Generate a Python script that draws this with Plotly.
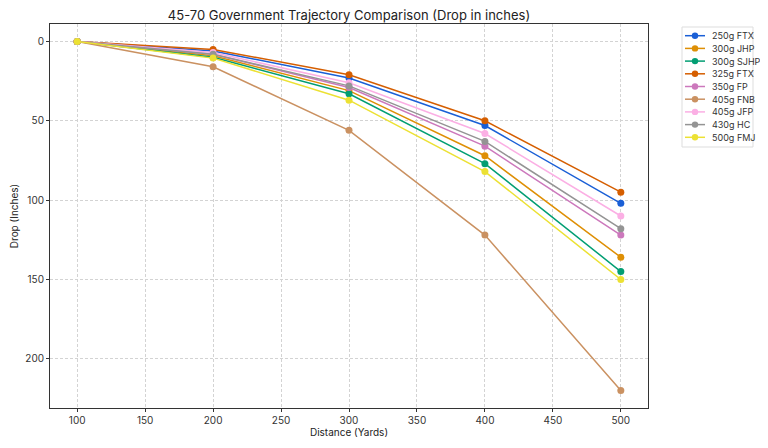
import plotly.graph_objects as go

distance = [100, 200, 300, 400, 500]

loads = ["250g FTX", "300g JHP", "300g SJHP", "325g FTX", "350g FP",
         "405g FNB", "405g JFP", "430g HC", "500g FMJ"]

drop_250_ftx = [0, 6, 23, 53, 102]
drop_300_jhp = [0, 9, 31, 72, 136]
drop_300_sjhp = [0, 10, 33, 77, 145]
drop_325_ftx = [0, 5, 21, 50, 95]
drop_350_fp = [0, 8, 29, 66, 122]
drop_405_fnb = [0, 16, 56, 122, 220]
drop_405_jfp = [0, 7, 26, 58, 110]
drop_430_hc = [0, 8, 28, 63, 118]
drop_500_fmj = [0, 10.5, 37, 82, 150]

drops = [drop_250_ftx, drop_300_jhp, drop_300_sjhp, drop_325_ftx, drop_350_fp,
         drop_405_fnb, drop_405_jfp, drop_430_hc, drop_500_fmj]

colors = ["#1a5fd6", "#de8f05", "#029e73", "#d55e00", "#cc78bc",
          "#ca9161", "#fbafe4", "#949494", "#ece133"]

# page body has an 8px margin, so the figure is a bit smaller than the window
W, H = 760, 440
L, R, T, B = 42, 120, 16, 40
pw, ph = W - L - R, H - T - B


def fx(px):
    return (px - L) / pw


def fy(py):
    return (H - B - py) / ph


fig = go.Figure()
for name, ys, c in zip(loads, drops, colors):
    fig.add_trace(go.Scatter(
        x=distance, y=ys, name=name, mode="lines+markers",
        line=dict(color=c, width=1.5),
        marker=dict(color=c, size=7),
    ))

# compact legend drawn by hand (plotly's own legend rows are too tall)
shapes = [dict(type="rect", xref="paper", yref="paper",
               x0=fx(674), x1=fx(745), y0=fy(139), y1=fy(19),
               line=dict(color="#dddddd", width=1), fillcolor="white", layer="above")]
annotations = []
for i, (name, c) in enumerate(zip(loads, colors)):
    cy = 27.7 + 12.7 * i
    shapes.append(dict(type="line", xref="paper", yref="paper",
                       x0=fx(677), x1=fx(697), y0=fy(cy), y1=fy(cy),
                       line=dict(color=c, width=1.5), layer="above"))
    shapes.append(dict(type="circle", xref="paper", yref="paper",
                       xsizemode="pixel", ysizemode="pixel",
                       xanchor=fx(687), yanchor=fy(cy),
                       x0=-3.2, x1=3.2, y0=-3.2, y1=3.2,
                       fillcolor=c, line=dict(color=c, width=0), layer="above"))
    annotations.append(dict(xref="paper", yref="paper", x=fx(702), y=fy(cy),
                            xanchor="left", yanchor="middle", showarrow=False,
                            text=name, font=dict(size=9, color="#333333")))

axis_common = dict(
    showline=True, linecolor="#333333", linewidth=1, mirror=True,
    showgrid=True, gridcolor="#d3d3d3", griddash="3px,2px", gridwidth=0.7,
    ticks="outside", ticklen=3, tickcolor="#333333",
    zeroline=False, tickfont=dict(size=10, color="#333333"),
    automargin=False,
)

fig.update_layout(
    width=W, height=H,
    margin=dict(l=L, r=R, t=T, b=B),
    paper_bgcolor="white", plot_bgcolor="white",
    showlegend=False,
    font=dict(family="Inter, Roboto, sans-serif", color="#222222"),
    title=dict(text="45-70 Government Trajectory Comparison (Drop in inches)",
               xref="paper", x=0.5, xanchor="center",
               yref="container", y=1 - 7 / H, yanchor="middle",
               font=dict(size=13)),
    shapes=shapes,
    annotations=annotations,
    xaxis=dict(title=dict(text="Distance (Yards)", font=dict(size=10), standoff=3),
               range=[80, 520], tickvals=[100, 150, 200, 250, 300, 350, 400, 450, 500],
               **axis_common),
    yaxis=dict(title=dict(text="Drop (Inches)", font=dict(size=10), standoff=5),
               range=[231, -11], tickvals=[0, 50, 100, 150, 200],
               **axis_common),
)

fig.write_html("out.html")
